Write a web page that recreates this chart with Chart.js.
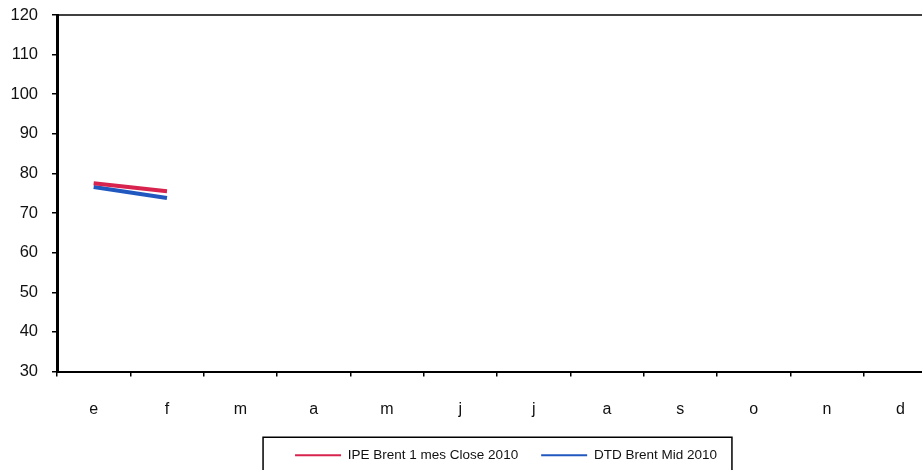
<!DOCTYPE html>
<html>
<head>
<meta charset="utf-8">
<script src="https://cdn.jsdelivr.net/npm/chart.js@4"></script>
<style>
    html, body { margin: 0; padding: 0; background: #ffffff; overflow: hidden; }
    #wrap { width: 940px; height: 470px; position: relative; }
</style>
</head>
<body>
<div id="wrap"><canvas id="brentChart"></canvas></div>
<script>
const months = ['e', 'f', 'm', 'a', 'm', 'j', 'j', 'a', 's', 'o', 'n', 'd'];
const ipeBrent = [77.5, 75.5, null, null, null, null, null, null, null, null, null, null];
const dtdBrent = [76.6, 73.8, null, null, null, null, null, null, null, null, null, null];
const seriesNames = ['IPE Brent 1 mes Close 2010', 'DTD Brent Mid 2010'];
const yTicks = { min: 30, max: 120, step: 10 };

document.addEventListener("DOMContentLoaded", () => {
    // frame on top of the plot + box around legend
    const framePlugin = {
        id: 'frame',
        afterLayout(chart) {
            // legend sits a bit right of the plot centre
            if (chart.legend) {
                chart.legend.left += 9;
                chart.legend.right += 9;
            }
        },
        afterDraw(chart) {
            const ctx = chart.ctx;
            const a = chart.chartArea;
            ctx.save();
            ctx.strokeStyle = '#000000';
            ctx.lineWidth = 1.5;
            ctx.beginPath();
            ctx.moveTo(a.left, a.top);
            ctx.lineTo(a.right, a.top);
            ctx.stroke();

            const lg = chart.legend;
            const boxes = lg.legendHitBoxes;
            if (boxes && boxes.length) {
                const first = boxes[0];
                const last = boxes[boxes.length - 1];
                const left = first.left - 32;
                const right = last.left + last.width + 15;
                const top = first.top + first.height / 2 - 18;
                ctx.lineWidth = 1.5;
                ctx.strokeRect(left, top, right - left, chart.height);
            }
            ctx.restore();
        }
    };

    new Chart(document.getElementById('brentChart'), {
        type: 'line',
        data: {
            labels: months,
            datasets: [{
                label: seriesNames[0],
                data: ipeBrent,
                borderColor: '#d7234d',
                backgroundColor: '#d7234d',
                borderWidth: 4,
                pointRadius: 0,
                tension: 0
            }, {
                label: seriesNames[1],
                data: dtdBrent,
                borderColor: '#2058c0',
                backgroundColor: '#2058c0',
                borderWidth: 4,
                pointRadius: 0,
                tension: 0
            }]
        },
        options: {
            responsive: true,
            maintainAspectRatio: false,
            animation: false,
            layout: { padding: { top: 15, right: 3, left: 0, bottom: -2 } },
            scales: {
                x: {
                    offset: true,
                    afterFit: (scale) => { scale.height = 54; },
                    grid: {
                        offset: true,
                        drawOnChartArea: false,
                        drawTicks: true,
                        tickLength: 5,
                        color: '#000000',
                        lineWidth: 1.5
                    },
                    border: { color: '#000000', width: 2 },
                    ticks: {
                        color: '#111111',
                        padding: 23,
                        font: { family: 'Liberation Sans', size: 16 }
                    }
                },
                y: {
                    min: yTicks.min,
                    max: yTicks.max,
                    afterFit: (scale) => {
                        scale.width = 57;
                        scale.paddingTop = 0;
                        scale.paddingBottom = 0;
                    },
                    grid: {
                        drawOnChartArea: false,
                        drawTicks: true,
                        tickLength: 5,
                        color: '#000000',
                        lineWidth: 1.5
                    },
                    border: { color: '#000000', width: 3 },
                    ticks: {
                        stepSize: yTicks.step,
                        color: '#111111',
                        padding: 14,
                        font: { family: 'Liberation Sans', size: 16.5 }
                    }
                }
            },
            plugins: {
                legend: {
                    position: 'bottom',
                    fullSize: false,
                    labels: {
                        usePointStyle: true,
                        pointStyle: 'line',
                        pointStyleWidth: 46,
                        boxHeight: 13,
                        padding: 23,
                        color: '#111111',
                        font: { family: 'Liberation Sans', size: 13.5 },
                        generateLabels: function(chart) {
                            const items = Chart.defaults.plugins.legend.labels.generateLabels(chart);
                            items.forEach(it => { it.lineWidth = 2; });
                            return items;
                        }
                    }
                },
                tooltip: { enabled: false }
            }
        },
        plugins: [framePlugin]
    });
});
</script>
</body>
</html>
